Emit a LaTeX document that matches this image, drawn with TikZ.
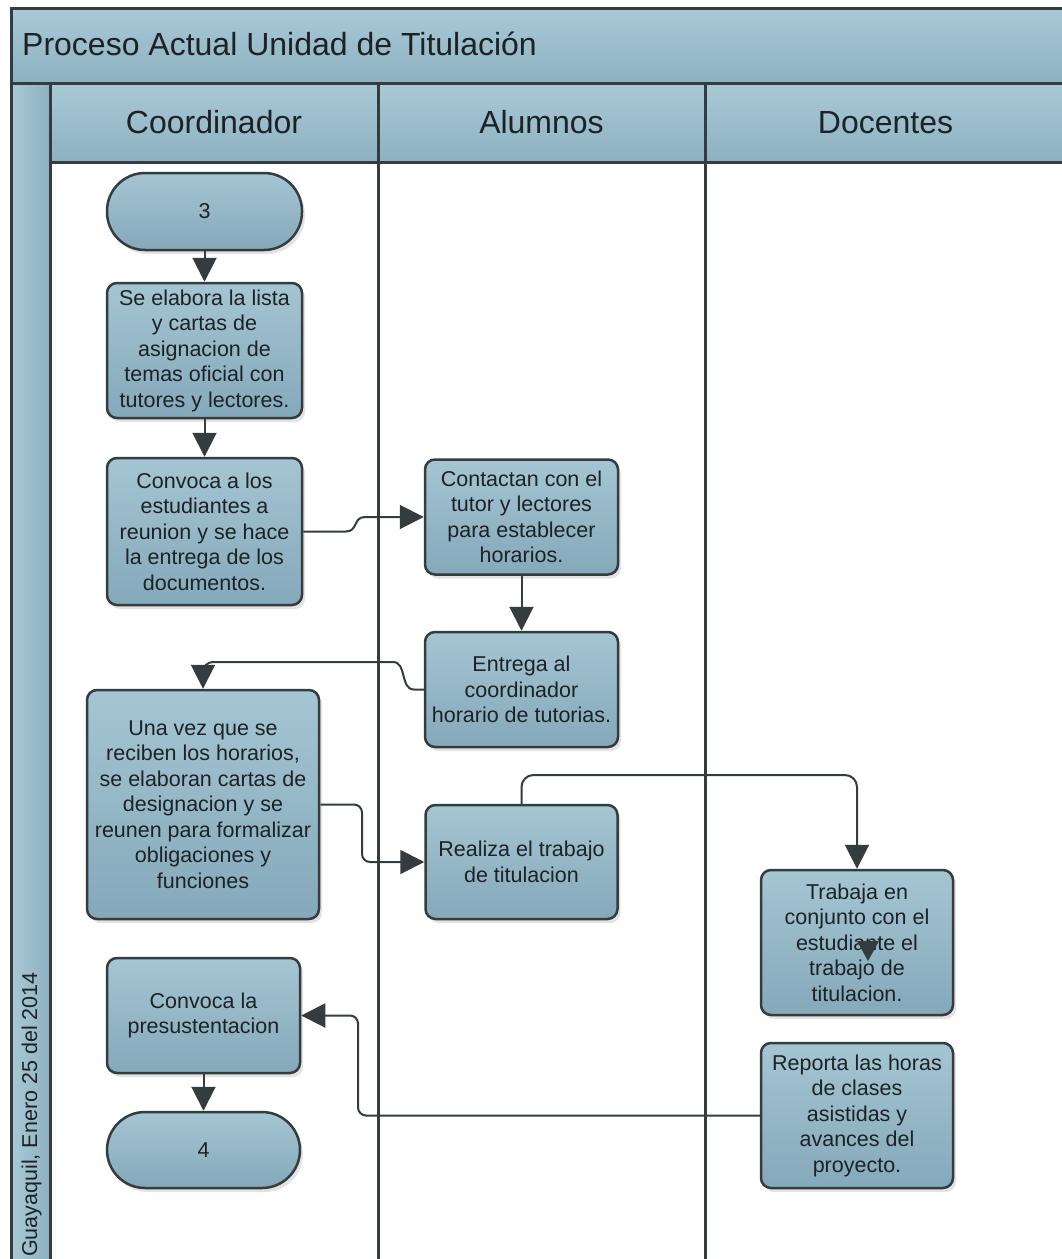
\documentclass[tikz,border=0pt]{standalone}
\usepackage{fontspec}
\setmainfont{Liberation Sans}
\usetikzlibrary{arrows.meta,shadows}
\definecolor{linec}{HTML}{353C40}
\definecolor{boxtop}{HTML}{A5C5D2}
\definecolor{boxbot}{HTML}{84A9BA}
\definecolor{bandtop}{HTML}{A9C9D6}
\definecolor{bandbot}{HTML}{8DB1C1}
\definecolor{txt}{HTML}{1C2226}
\begin{document}
\begin{tikzpicture}[x=1pt,y=-1pt,
  proc/.style={draw=linec, line width=2.5pt, rounded corners=10pt, top color=boxtop, bottom color=boxbot,
    align=center, text=txt, font=\fontsize{21.5}{25.5}\selectfont, inner sep=0pt,
    drop shadow={opacity=0.22,shadow xshift=3pt,shadow yshift=-4pt}},
  term/.style={proc, rounded corners=38pt},
  conn/.style={draw=linec, line width=2pt, -{Triangle[length=24pt,width=24pt]}},
  lane/.style={draw=linec, line width=3pt},
  hdr/.style={text=txt, inner sep=0pt, font=\fontsize{32}{38}\selectfont, anchor=base}
  ]
\useasboundingbox (0,0) rectangle (1062,1259);
\clip (0,0) rectangle (1062,1259);
\fill[white] (0,0) rectangle (1062,1259);
% bands
\shade[top color=bandtop,bottom color=bandbot] (11,8) rectangle (1075,83);
\shade[top color=bandtop,bottom color=bandbot] (50,83) rectangle (1075,162);
\shade[left color=bandtop,right color=bandbot] (11,83) rectangle (50,1275);
% frame and lanes
\draw[lane] (11,1275) -- (11,8) -- (1075,8);
\draw[lane] (11,83) -- (1075,83);
\draw[lane] (50,83) -- (50,1275);
\draw[lane] (50,162) -- (1075,162);
\draw[lane] (378,83) -- (378,1275);
\draw[lane] (705,83) -- (705,1275);
% texts
\node[anchor=base west, text=txt, inner sep=0pt, font=\fontsize{32}{38}\selectfont] (title) at (22,55) {Proceso Actual Unidad de Titulación};
\node[hdr] (hcoord) at (214,133) {Coordinador};
\node[hdr] (halum) at (541.5,133) {Alumnos};
\node[hdr] (hdoc) at (885.5,133) {Docentes};
\node[rotate=90, anchor=base west, text=txt, inner sep=0pt, font=\fontsize{21.5}{25}\selectfont] (fecha) at (37,1257) {Guayaquil, Enero 25 del 2014};
% nodes
\node[term, minimum width=195pt, minimum height=77pt] (t3) at (204.5,211.5) {3};
\node[proc, minimum width=195pt, minimum height=135pt] (b1) at (204.5,350.5) {Se elabora la lista\\y cartas de\\asignacion de\\temas oficial con\\tutores y lectores.};
\node[proc, minimum width=195pt, minimum height=147pt] (b2) at (204.5,531.5) {Convoca a los\\estudiantes a\\reunion y se hace\\la entrega de los\\documentos.};
\node[proc, minimum width=193pt, minimum height=115pt] (b3) at (521.5,517) {Contactan con el\\tutor y lectores\\para establecer\\horarios.};
\node[proc, minimum width=193pt, minimum height=115pt] (b4) at (521.5,689.5) {Entrega al\\coordinador\\horario de tutorias.};
\node[proc, minimum width=232pt, minimum height=229pt] (b5) at (203,804.5) {Una vez que se\\reciben los horarios,\\se elaboran cartas de\\designacion y se\\reunen para formalizar\\obligaciones y\\funciones};
\node[proc, minimum width=192pt, minimum height=114pt] (b6) at (521.5,862) {Realiza el trabajo\\de titulacion};
\node[proc, minimum width=192pt, minimum height=145pt] (b7) at (857,942.5) {Trabaja en\\conjunto con el\\estudiante el\\trabajo de\\titulacion.};
\node[proc, minimum width=192pt, minimum height=145pt] (b8) at (857,1115.5) {Reporta las horas\\de clases\\asistidas y\\avances del\\proyecto.};
\node[proc, minimum width=193pt, minimum height=115pt] (b9) at (203.5,1015.5) {Convoca la\\presustentacion};
\node[term, minimum width=193pt, minimum height=76pt] (t4) at (203.5,1150) {4};
% connectors
\draw[conn] (t3) -- (b1);
\draw[conn] (b1) -- (b2);
\draw[conn] (b2.east) -- (346,531.5) .. controls (358,531.5) and (353,517) .. (365,517) -- (b3.west);
\draw[conn] (b3) -- (b4);
\draw[conn] (b4.west) -- (414,689.5) .. controls (400,689.5) and (407,662) .. (393,662) -- (213,662) arc[start angle=90, end angle=180, radius=10pt] -- (b5.north);
\draw[conn, rounded corners=8pt] (b5.east) -- (362,804.5) -- (362,862) -- (b6.west);
\draw[conn, rounded corners=12pt] (b6.north) -- (521.5,775) -- (857,775) -- (b7.north);
\draw[conn, rounded corners=8pt] (b8.west) -- (358,1115.5) -- (358,1015.5) -- (b9.east);
\draw[conn] (b9) -- (t4);
\fill[linec] (857,941) -- (879,941) -- (868,961) -- cycle;
\end{tikzpicture}
\end{document}
